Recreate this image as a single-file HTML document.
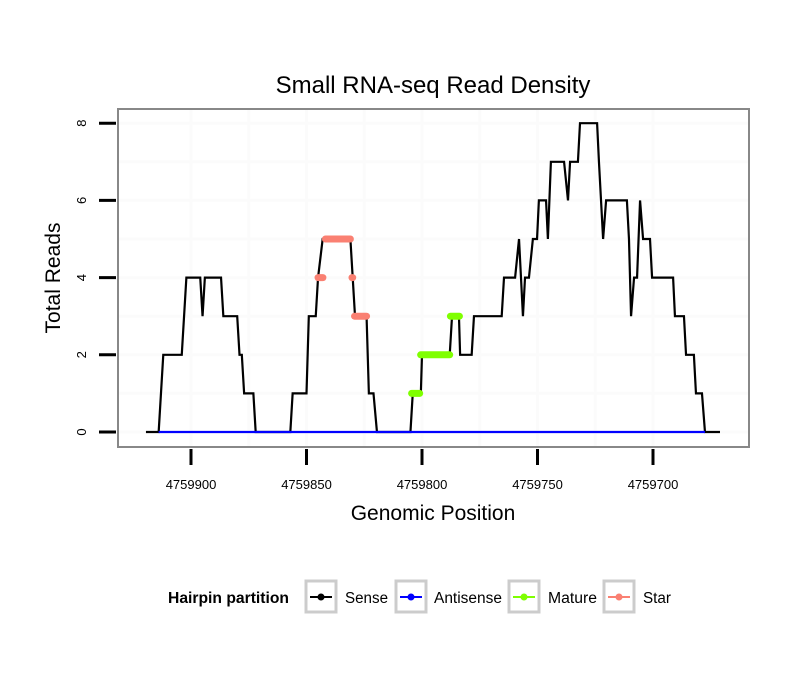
<!DOCTYPE html>
<html><head><meta charset="utf-8"><style>
body{margin:0;background:#fff;}
svg{display:block;font-family:"Liberation Sans",sans-serif;}
</style></head><body>
<svg id="chart" width="810" height="690">
<text x="433" y="93" font-size="24" text-anchor="middle">Small RNA-seq Read Density</text>
<rect x="118" y="109" width="631" height="338" fill="#fff" stroke="#888" stroke-width="2"/>
<g id="grid"></g>
<g id="series"></g>
<g id="axes"></g>
<text x="433" y="520" font-size="21" text-anchor="middle">Genomic Position</text>
<text transform="translate(60,278) rotate(-90)" font-size="21" text-anchor="middle">Total Reads</text>
<g>
<text x="168" y="603" font-size="15.5" font-weight="bold" textLength="121" lengthAdjust="spacingAndGlyphs">Hairpin partition</text>
<g><rect x="306" y="581" width="30" height="31" fill="#fff" stroke="#ccc" stroke-width="3"/><line x1="310" x2="332" y1="597" y2="597" stroke="#000" stroke-width="2"/><circle cx="321" cy="597" r="3.5" fill="#000"/><text x="345" y="603" font-size="15.5" textLength="43" lengthAdjust="spacingAndGlyphs">Sense</text></g>
<g><rect x="396" y="581" width="30" height="31" fill="#fff" stroke="#ccc" stroke-width="3"/><line x1="400" x2="422" y1="597" y2="597" stroke="#00f" stroke-width="2"/><circle cx="411" cy="597" r="3.5" fill="#00f"/><text x="434" y="603" font-size="15.5" textLength="68" lengthAdjust="spacingAndGlyphs">Antisense</text></g>
<g><rect x="509" y="581" width="30" height="31" fill="#fff" stroke="#ccc" stroke-width="3"/><line x1="513" x2="535" y1="597" y2="597" stroke="#7fff00" stroke-width="2"/><circle cx="524" cy="597" r="3.5" fill="#7fff00"/><text x="548" y="603" font-size="15.5" textLength="49" lengthAdjust="spacingAndGlyphs">Mature</text></g>
<g><rect x="604" y="581" width="30" height="31" fill="#fff" stroke="#ccc" stroke-width="3"/><line x1="608" x2="630" y1="597" y2="597" stroke="#fa8072" stroke-width="2"/><circle cx="619" cy="597" r="3.5" fill="#fa8072"/><text x="643" y="603" font-size="15.5" textLength="28" lengthAdjust="spacingAndGlyphs">Star</text></g>
</g>
</svg>
<script>
const senseX=[4759919.5,4759914,4759912,4759904,4759902,4759896,4759895,4759894,4759887,4759886,4759880,4759879,4759878,4759877,4759873,4759872,4759857,4759856,4759850,4759849,4759846,4759845,4759843,4759831,4759830,4759829,4759824,4759823,4759821,4759819.5,4759805,4759804,4759800.5,4759800,4759788,4759787,4759784,4759783.5,4759778.5,4759777.5,4759765.5,4759764.5,4759759.7,4759758,4759756.3,4759755.4,4759753.7,4759752,4759750.2,4759749.4,4759746.3,4759745.5,4759744.2,4759738.5,4759736.8,4759735.9,4759732.5,4759731.6,4759724.2,4759723.4,4759721.6,4759720.3,4759711.3,4759710.4,4759709.5,4759708.2,4759706.9,4759705.6,4759704.3,4759701.3,4759700.4,4759691.3,4759690.5,4759686.6,4759685.7,4759682.3,4759681.4,4759678.8,4759677.5,4759671];
const senseY=[0,0,2,2,4,4,3,4,4,3,3,2,2,1,1,0,0,1,1,3,3,4,5,5,4,3,3,1,1,0,0,1,1,2,2,3,3,2,2,3,3,4,4,5,3,4,4,5,5,6,6,5,7,7,6,7,7,8,8,7,5,6,6,5,3,4,4,6,5,5,4,4,3,3,2,2,1,1,0,0];
const antisenseX=[4759914,4759677.5];
const antisenseY=[0,0];
const matureStart=[4759804.5,4759800.6,4759787.7];
const matureEnd=[4759801,4759788,4759783.8];
const matureY=[1,2,3];
const starStart=[4759845,4759841.8,4759830.3,4759829.2];
const starEnd=[4759842.9,4759831,4759830,4759824];
const starY=[4,5,4,3];
const xTicks=[4759900,4759850,4759800,4759750,4759700];
const xTickLabels=["4759900","4759850","4759800","4759750","4759700"];
const yTicks=[0,2,4,6,8];
const yTickLabels=["0","2","4","6","8"];
const xGrid=[4759900,4759875,4759850,4759825,4759800,4759775,4759750,4759725,4759700];
const yGrid=[0,1,2,3,4,5,6,7,8];

const NS="http://www.w3.org/2000/svg";
function xs(v){return 191+(4759900-v)*2.31;}
function ys(v){return 432-v*38.6;}
function mk(tag,attrs,parent){const e=document.createElementNS(NS,tag);for(const k in attrs)e.setAttribute(k,attrs[k]);parent.appendChild(e);return e;}
const grid=document.getElementById('grid'),ser=document.getElementById('series'),axes=document.getElementById('axes');
xGrid.forEach(v=>{const l=mk('line',{x1:xs(v),x2:xs(v),y1:110,y2:446,stroke:'#fbfbfb','stroke-width':3},grid);

});
yGrid.forEach(v=>{const l=mk('line',{x1:119,x2:748,y1:ys(v),y2:ys(v),stroke:'#fbfbfb','stroke-width':3},grid);

});
function poly(X,Y,color,name){const p=mk('polyline',{points:X.map((x,i)=>xs(x)+','+ys(Y[i])).join(' '),fill:'none',stroke:color,'stroke-width':2.2,'stroke-linejoin':'miter'},ser);

}
poly(senseX,senseY,'#000','sense-line');
poly(antisenseX,antisenseY,'#00f','antisense-line');
matureY.forEach((y,i)=>{const l=mk('line',{x1:xs(matureStart[i]),x2:xs(matureEnd[i]),y1:ys(y),y2:ys(y),stroke:'#7fff00','stroke-width':7,'stroke-linecap':'round'},ser);

});
starY.forEach((y,i)=>{const l=mk('line',{x1:xs(starStart[i]),x2:xs(starEnd[i]),y1:ys(y),y2:ys(y),stroke:'#fa8072','stroke-width':7,'stroke-linecap':'round'},ser);

});
xTicks.forEach((v,i)=>{const t=mk('line',{x1:xs(v),x2:xs(v),y1:449,y2:465,stroke:'#000','stroke-width':3},axes);


const tx=mk('text',{x:xs(v),y:489,'font-size':13,'text-anchor':'middle'},axes);tx.textContent=xTickLabels[i];

});
yTicks.forEach((v,i)=>{const t=mk('line',{x1:99,x2:116,y1:ys(v),y2:ys(v),stroke:'#000','stroke-width':3},axes);


const tx=mk('text',{transform:'translate(86,'+ys(v)+') rotate(-90)','font-size':13,'text-anchor':'middle'},axes);tx.textContent=yTickLabels[i];

});
</script>
</body></html>
